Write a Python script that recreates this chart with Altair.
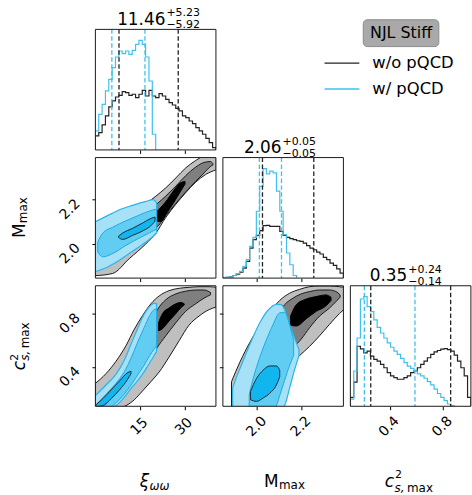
import altair as alt
import pandas as pd

FONT = "DejaVu Sans"
SIZE = 121.3          # edge of every square panel, px

# axis limits and ticks
XI_RANGE = [0.0, 40.6]
M_RANGE = [1.845, 2.39]
C2_RANGE = [0.105, 1.01]
XI_TICKS = [15, 30]
M_TICKS = [2.0, 2.2]
C2_TICKS = [0.4, 0.8]
NBINS = 36

# marginal histograms: equal bins over the axis limits, tallest bin = 100
XI_HIST_WO = [12.8, 15.8, 22.8, 31.0, 39.2, 44.7, 48.3, 49.8, 53.2, 52.3, 49.8, 50.8,
              47.7, 50.8, 54.4, 49.2, 54.4, 49.2, 47.7, 51.4, 49.2, 46.2, 43.2, 41.0,
              38.0, 35.6, 31.0, 29.5, 26.4, 24.0, 20.4, 17.3, 14.3, 10.6, 6.7, 2.1]
XI_HIST_W = [17.3, 32.5, 41.6, 53.8, 64.4, 75.1, 84.8, 90.3, 87.8, 90.3, 87.2, 90.9,
             96.4, 100.0, 96.4, 84.8, 62.9, 14.3]
M_HIST_WO = [0.3, 0.6, 1.2, 2.4, 3.7, 5.5, 9.1, 15.2, 27.4, 35.1, 39.0, 43.3, 47.9, 48.2,
             47.3, 47.3, 47.3, 42.7, 39.0, 37.2, 36.0, 35.1, 34.1, 33.5, 32.0, 29.6, 27.4,
             25.9, 23.8, 22.0, 18.9, 16.8, 13.7, 11.6, 8.5, 4.6]
M_HIST_W = [0.3, 0.6, 1.2, 2.4, 4.0, 6.1, 10.7, 16.8, 29.0, 37.2, 61.0, 83.8, 100.0, 95.1,
            97.6, 96.0, 79.3, 61.0, 39.6, 22.9, 12.2, 2.4]
C2_HIST_WO = [8.1, 22.0, 54.8, 52.4, 48.8, 50.3, 45.8, 42.8, 41.3, 38.3, 35.2, 30.7, 27.7,
              26.2, 24.7, 24.7, 26.2, 27.7, 30.7, 32.2, 35.2, 38.3, 41.3, 44.3, 47.3, 49.7,
              50.9, 52.1, 52.7, 51.8, 50.3, 46.7, 41.3, 35.2, 27.7, 8.1]
C2_HIST_W = [6.6, 32.2, 62.3, 97.9, 100.0, 91.0, 86.4, 78.9, 72.0, 66.9, 62.3, 57.8, 53.9,
             50.3, 47.3, 43.7, 39.8, 36.7, 34.6, 32.2, 29.5, 27.7, 25.6, 22.6, 19.6, 15.7,
             11.7, 8.1, 5.1, 2.1, 0.6]

# summary of the "w/ pQCD" posterior: median and 68% interval
MEDIANS = [11.46, 2.06, 0.35]
ERR_PLUS = [5.23, 0.05, 0.24]
ERR_MINUS = [5.92, 0.05, 0.14]
# 16th / 84th percentiles of the "w/o pQCD" posterior
XI_Q_WO = [7.95, 27.9]
M_Q_WO = [2.024, 2.256]
C2_Q_WO = [0.258, 0.858]

# 2D credible regions, each as (x, y_low, y_high) slices, outer -> inner
XI_M_WO_OUTER = [(0, 1.856, 2.067), (5.8, 1.866, 2.119), (11.4, 1.933, 2.149), (17.0, 2.000, 2.183),
                 (20.4, 2.049, 2.216), (23.7, 2.119, 2.253), (27.1, 2.179, 2.298), (30.4, 2.231, 2.343),
                 (33.8, 2.279, 2.377), (37.1, 2.313, 2.402), (40.7, 2.335, 2.417)]
XI_M_WO_MID = [(10.0, 2.060, 2.080), (11.4, 2.038, 2.104), (17.0, 2.060, 2.142), (20.6, 2.075, 2.179),
               (23.7, 2.127, 2.216), (27.1, 2.183, 2.261), (30.4, 2.234, 2.308), (33.8, 2.283, 2.347),
               (36.6, 2.320, 2.368), (38.8, 2.350, 2.372), (39.6, 2.357, 2.362)]
XI_M_WO_INNER = [(19.2, 2.109, 2.130), (22.0, 2.100, 2.164), (24.3, 2.145, 2.201), (26.5, 2.189, 2.243),
                 (28.7, 2.238, 2.276), (30.2, 2.270, 2.282)]
XI_M_W_OUTER = [(0, 1.874, 2.100), (3.6, 1.892, 2.124), (8.1, 1.926, 2.154), (12.5, 1.966, 2.174),
                (17.0, 2.008, 2.192), (19.5, 2.035, 2.200), (20.6, 2.049, 2.185)]
XI_M_W_MID = [(0.8, 1.963, 2.008), (2.5, 1.941, 2.049), (5.8, 1.956, 2.075), (10.3, 1.993, 2.104),
              (14.8, 2.026, 2.130), (18.1, 2.049, 2.148), (20.6, 2.067, 2.157)]
XI_M_W_INNER = [(7.8, 2.029, 2.035), (9.2, 2.020, 2.049), (12.5, 2.038, 2.070), (15.9, 2.058, 2.094),
                (18.7, 2.082, 2.115), (20.1, 2.103, 2.121)]

XI_C2_WO_OUTER = [(0, 0.09, 0.277), (3.6, 0.09, 0.351), (6.9, 0.09, 0.442), (10.3, 0.110, 0.560),
                  (13.1, 0.154, 0.683), (15.9, 0.221, 0.787), (18.7, 0.290, 0.875), (21.5, 0.363, 0.934),
                  (24.8, 0.474, 0.973), (28.2, 0.597, 0.991), (31.5, 0.713, 0.998), (34.9, 0.782, 1.003),
                  (38.3, 0.831, 1.003), (40.7, 0.850, 0.998)]
XI_C2_WO_MID = [(15.0, 0.400, 0.520), (15.9, 0.363, 0.585), (18.7, 0.462, 0.732), (20.9, 0.548, 0.831),
                (23.7, 0.634, 0.905), (27.1, 0.732, 0.949), (30.4, 0.818, 0.969), (33.8, 0.875, 0.978),
                (36.6, 0.917, 0.978), (38.8, 0.942, 0.959)]
XI_C2_WO_INNER = [(21.3, 0.671, 0.732), (22.6, 0.688, 0.801), (24.8, 0.745, 0.843), (27.1, 0.801, 0.875),
                  (28.7, 0.843, 0.885), (29.9, 0.865, 0.875)]
XI_C2_W_OUTER = [(0, 0.09, 0.186), (3.6, 0.09, 0.265), (6.9, 0.110, 0.344), (9.7, 0.172, 0.449),
                 (12.0, 0.240, 0.572), (14.2, 0.295, 0.688), (16.4, 0.363, 0.794), (18.3, 0.432, 0.855),
                 (19.8, 0.486, 0.880), (20.6, 0.516, 0.875)]
XI_C2_W_MID = [(0.8, 0.09, 0.130), (3.6, 0.09, 0.196), (6.9, 0.130, 0.277), (9.7, 0.196, 0.363),
               (12.0, 0.265, 0.467), (14.2, 0.339, 0.585), (16.4, 0.413, 0.695), (18.3, 0.486, 0.787),
               (19.8, 0.536, 0.831), (20.6, 0.560, 0.836)]
XI_C2_W_INNER = [(0.2, 0.103, 0.117), (2.5, 0.110, 0.162), (5.3, 0.162, 0.228), (8.1, 0.228, 0.295),
                 (10.9, 0.309, 0.358), (12.0, 0.351, 0.368)]

M_C2_WO_OUTER = [(1.884, 0.09, 0.290), (1.922, 0.09, 0.437), (1.967, 0.09, 0.585), (2.012, 0.09, 0.708),
                 (2.057, 0.09, 0.806), (2.080, 0.150, 0.860), (2.102, 0.290, 0.900), (2.147, 0.413, 0.954),
                 (2.192, 0.486, 0.983), (2.237, 0.555, 1.003), (2.282, 0.634, 1.008), (2.327, 0.720, 1.008),
                 (2.372, 0.801, 1.003), (2.395, 0.836, 0.998)]
M_C2_WO_MID = [(2.087, 0.511, 0.782), (2.124, 0.511, 0.868), (2.162, 0.548, 0.917), (2.199, 0.609, 0.949),
               (2.237, 0.695, 0.966), (2.282, 0.782, 0.978), (2.327, 0.843, 0.978), (2.357, 0.892, 0.966),
               (2.375, 0.924, 0.941)]
M_C2_WO_INNER = [(2.151, 0.713, 0.782), (2.177, 0.708, 0.868), (2.222, 0.762, 0.910), (2.267, 0.818, 0.929),
                 (2.312, 0.860, 0.941), (2.334, 0.900, 0.924)]
M_C2_W_OUTER = [(1.889, 0.09, 0.240), (1.907, 0.09, 0.326), (1.937, 0.09, 0.449), (1.974, 0.09, 0.597),
                (2.012, 0.09, 0.732), (2.049, 0.09, 0.826), (2.087, 0.09, 0.870), (2.109, 0.09, 0.868),
                (2.124, 0.110, 0.831), (2.147, 0.243, 0.720), (2.169, 0.378, 0.617), (2.189, 0.486, 0.531)]
M_C2_W_MID = [(1.964, 0.09, 0.191), (1.982, 0.09, 0.314), (2.012, 0.09, 0.474), (2.049, 0.09, 0.634),
              (2.079, 0.09, 0.745), (2.087, 0.110, 0.775), (2.102, 0.186, 0.806), (2.124, 0.299, 0.811),
              (2.147, 0.413, 0.713), (2.165, 0.486, 0.597)]
M_C2_W_INNER = [(1.970, 0.154, 0.216), (1.997, 0.142, 0.314), (2.027, 0.167, 0.376), (2.057, 0.203, 0.408),
                (2.087, 0.265, 0.408), (2.102, 0.326, 0.376)]

SERIES = ["w/o pQCD", "w/ pQCD"]
BLACK = "#222222"
CYAN = "#3fc1ec"
WO_STYLE = [("#bfbfbf", "#1a1a1a", 1.0), ("#7f7f7f", "#1a1a1a", 1.0), ("#000000", "#000000", 1.0)]
W_STYLE = [("#a6e1f7", "#2bb4e6", 1.2), ("#62cdf3", "#1fa9df", 1.0), ("#12b6ef", "#1a1a1a", 0.9)]

ONE = pd.DataFrame({"k": [0]})


def label(text, x, y, size, align="left", baseline="alphabetic", style="normal", angle=0):
    kw = dict(text=text, font=FONT, fontSize=size, align=align, baseline=baseline,
              fontStyle=style, color="black")
    if angle:
        kw["angle"] = angle
    return alt.Chart(ONE).mark_text(**kw).encode(x=alt.value(x), y=alt.value(y))


def frame():
    return alt.Chart(ONE).mark_rect(fill="transparent", stroke="#1a1a1a", strokeWidth=1).encode(
        x=alt.value(0), x2=alt.value(SIZE), y=alt.value(0), y2=alt.value(SIZE))


def axis(ticks, fmt, with_labels, vertical=False):
    kw = dict(values=ticks, format=fmt, title=None, grid=False, domain=False,
              ticks=True, tickSize=3.5, tickWidth=1, tickColor="black")
    if not with_labels:
        return alt.Axis(labels=False, **kw)
    return alt.Axis(labels=True, labelAngle=315, labelAlign="center", labelBaseline="middle",
                    labelPadding=22.5 if vertical else 16.5,
                    labelOffset=9.5 if vertical else -1,
                    labelFont=FONT, labelFontSize=14, labelColor="black",
                    labelOverlap=False, labelFlush=False, labelBound=False, **kw)


def steps(vals, rng):
    w = (rng[1] - rng[0]) / NBINS
    xs = [rng[0]] + [rng[0] + i * w for i in range(len(vals))] + [rng[0] + len(vals) * w] * 2
    ys = [0] + list(vals) + [vals[-1], 0]
    return pd.DataFrame({"x": xs, "y": ys, "i": list(range(len(xs)))})


def hist_panel(rng, ticks, fmt, wo, w, q_wo, k, title_right, show_x):
    xs = alt.Scale(domain=rng, nice=False, zero=False)
    ys = alt.Scale(domain=[0, 110], nice=False, zero=True)
    ax = axis(ticks, fmt, show_x)

    def line(df, color):
        return alt.Chart(df).mark_line(interpolate="step-after", color=color, strokeWidth=1.2,
                                       clip=True).encode(
            x=alt.X("x:Q", scale=xs, axis=ax), y=alt.Y("y:Q", scale=ys, axis=None), order="i:Q")

    def rules(vals, color):
        return alt.Chart(pd.DataFrame({"x": vals})).mark_rule(
            color=color, strokeWidth=1.3, strokeDash=[4.5, 2.5]).encode(
            x=alt.X("x:Q", scale=xs, axis=ax))

    med, ep, em = MEDIANS[k], ERR_PLUS[k], ERR_MINUS[k]
    layers = [
        line(steps(wo, rng), BLACK),
        line(steps(w, rng), CYAN),
        rules(q_wo, BLACK),
        rules([med - em, med + ep], CYAN),
        frame(),
        label(f"{med:.2f}", title_right, -4.5, 17, align="right"),
        label(f"+{ep:.2f}", title_right + 1, -16, 11, baseline="middle"),
        label(f"\u2212{em:.2f}", title_right + 1, -4, 11, baseline="middle"),
    ]
    return layers


def pair_panel(xr, yr, xt, xf, yt, yf, wo, w, show_x, show_y):
    xs = alt.Scale(domain=xr, nice=False, zero=False)
    ys = alt.Scale(domain=yr, nice=False, zero=False)
    ax_x = axis(xt, xf, show_x)
    ax_y = axis(yt, yf, show_y, vertical=True)
    layers = []
    for pts, (fill, stroke, sw) in zip(wo + w, WO_STYLE + W_STYLE):
        df = pd.DataFrame(pts, columns=["x", "lo", "hi"])
        layers.append(alt.Chart(df).mark_area(
            fill=fill, stroke=stroke, strokeWidth=sw, interpolate="monotone", clip=True).encode(
            x=alt.X("x:Q", scale=xs, axis=ax_x),
            y=alt.Y("lo:Q", scale=ys, axis=ax_y),
            y2="hi:Q"))
    layers.append(frame())
    return layers


# axis titles, built from pieces so the sub/superscripts sit like math text
def left_title_m():
    return [label("M", -71, 81, 17, angle=270),
            label("max", -69, 66, 12, angle=270)]


def left_title_c2():
    return [label("c", -71, 85, 17, style="italic", angle=270),
            label("2", -78, 75.5, 11, angle=270),
            label("s,", -67, 75.5, 12, style="italic", angle=270),
            label("max", -67, 63, 12, angle=270)]


def bottom_title_xi():
    return [label("\u03be", 54, 203, 17, align="right", style="italic"),
            label("\u03c9\u03c9", 54.5, 206, 12, style="italic")]


def bottom_title_m():
    return [label("M", 56, 203, 17, align="right"),
            label("max", 56.5, 205, 12)]


def bottom_title_c2():
    return [label("c", 44, 203, 17, align="right", style="italic"),
            label("2", 45, 193, 11),
            label("s,", 44.5, 208, 12, style="italic"),
            label("max", 57, 208, 12)]


def cell(layers):
    return alt.layer(*layers).properties(width=SIZE, height=SIZE)


def blank():
    return alt.Chart(ONE).mark_point(opacity=0).encode(
        x=alt.value(SIZE / 2), y=alt.value(SIZE / 2)).properties(width=SIZE, height=SIZE)


# invisible corner marker that fixes the page origin relative to the grid
anchor = alt.Chart(ONE).mark_rule(opacity=0, strokeWidth=0).encode(
    x=alt.value(-96), x2=alt.value(-96), y=alt.value(-27.7), y2=alt.value(-27.7))

hist_xi = cell(hist_panel(XI_RANGE, XI_TICKS, "d", XI_HIST_WO, XI_HIST_W, XI_Q_WO, 0, 70.5, False)
               + [anchor])
hist_m = cell(hist_panel(M_RANGE, M_TICKS, ".1f", M_HIST_WO, M_HIST_W, M_Q_WO, 1, 59, False))
hist_c2 = cell(hist_panel(C2_RANGE, C2_TICKS, ".1f", C2_HIST_WO, C2_HIST_W, C2_Q_WO, 2, 57.3, True)
               + bottom_title_c2())

xi_m = cell(pair_panel(XI_RANGE, M_RANGE, XI_TICKS, "d", M_TICKS, ".1f",
                       [XI_M_WO_OUTER, XI_M_WO_MID, XI_M_WO_INNER],
                       [XI_M_W_OUTER, XI_M_W_MID, XI_M_W_INNER], False, True)
            + left_title_m())
xi_c2 = cell(pair_panel(XI_RANGE, C2_RANGE, XI_TICKS, "d", C2_TICKS, ".1f",
                        [XI_C2_WO_OUTER, XI_C2_WO_MID, XI_C2_WO_INNER],
                        [XI_C2_W_OUTER, XI_C2_W_MID, XI_C2_W_INNER], True, True)
             + left_title_c2() + bottom_title_xi())
m_c2 = cell(pair_panel(M_RANGE, C2_RANGE, M_TICKS, ".1f", C2_TICKS, ".1f",
                       [M_C2_WO_OUTER, M_C2_WO_MID, M_C2_WO_INNER],
                       [M_C2_W_OUTER, M_C2_W_MID, M_C2_W_INNER], True, False)
            + bottom_title_m())

# legend with its title box
legend_layers = [
    alt.Chart(ONE).mark_rect(fill="#a9a9a9", stroke="#8a8a8a", strokeWidth=1, cornerRadius=4).encode(
        x=alt.value(13), x2=alt.value(89), y=alt.value(-9.7), y2=alt.value(17.3)),
    label("NJL Stiff", 51, 4, 16, align="center", baseline="middle"),
    alt.Chart(ONE).mark_rule(color=BLACK, strokeWidth=1.3).encode(
        x=alt.value(-26), x2=alt.value(9), y=alt.value(34)),
    alt.Chart(ONE).mark_rule(color=CYAN, strokeWidth=1.6).encode(
        x=alt.value(-26), x2=alt.value(9), y=alt.value(60)),
    label(SERIES[0], 22, 34, 16.5, baseline="middle"),
    label(SERIES[1], 22, 60, 16.5, baseline="middle"),
]
legend = cell(legend_layers)

chart = alt.concat(
    hist_xi, blank(), legend,
    xi_m, hist_m, blank(),
    xi_c2, m_c2, hist_c2,
    columns=3, spacing={"row": 7, "column": 6.3}, bounds="flush",
).properties(padding=0).configure_view(strokeWidth=0)

chart.save("out.html", embed_options={"renderer": "svg", "actions": False})
